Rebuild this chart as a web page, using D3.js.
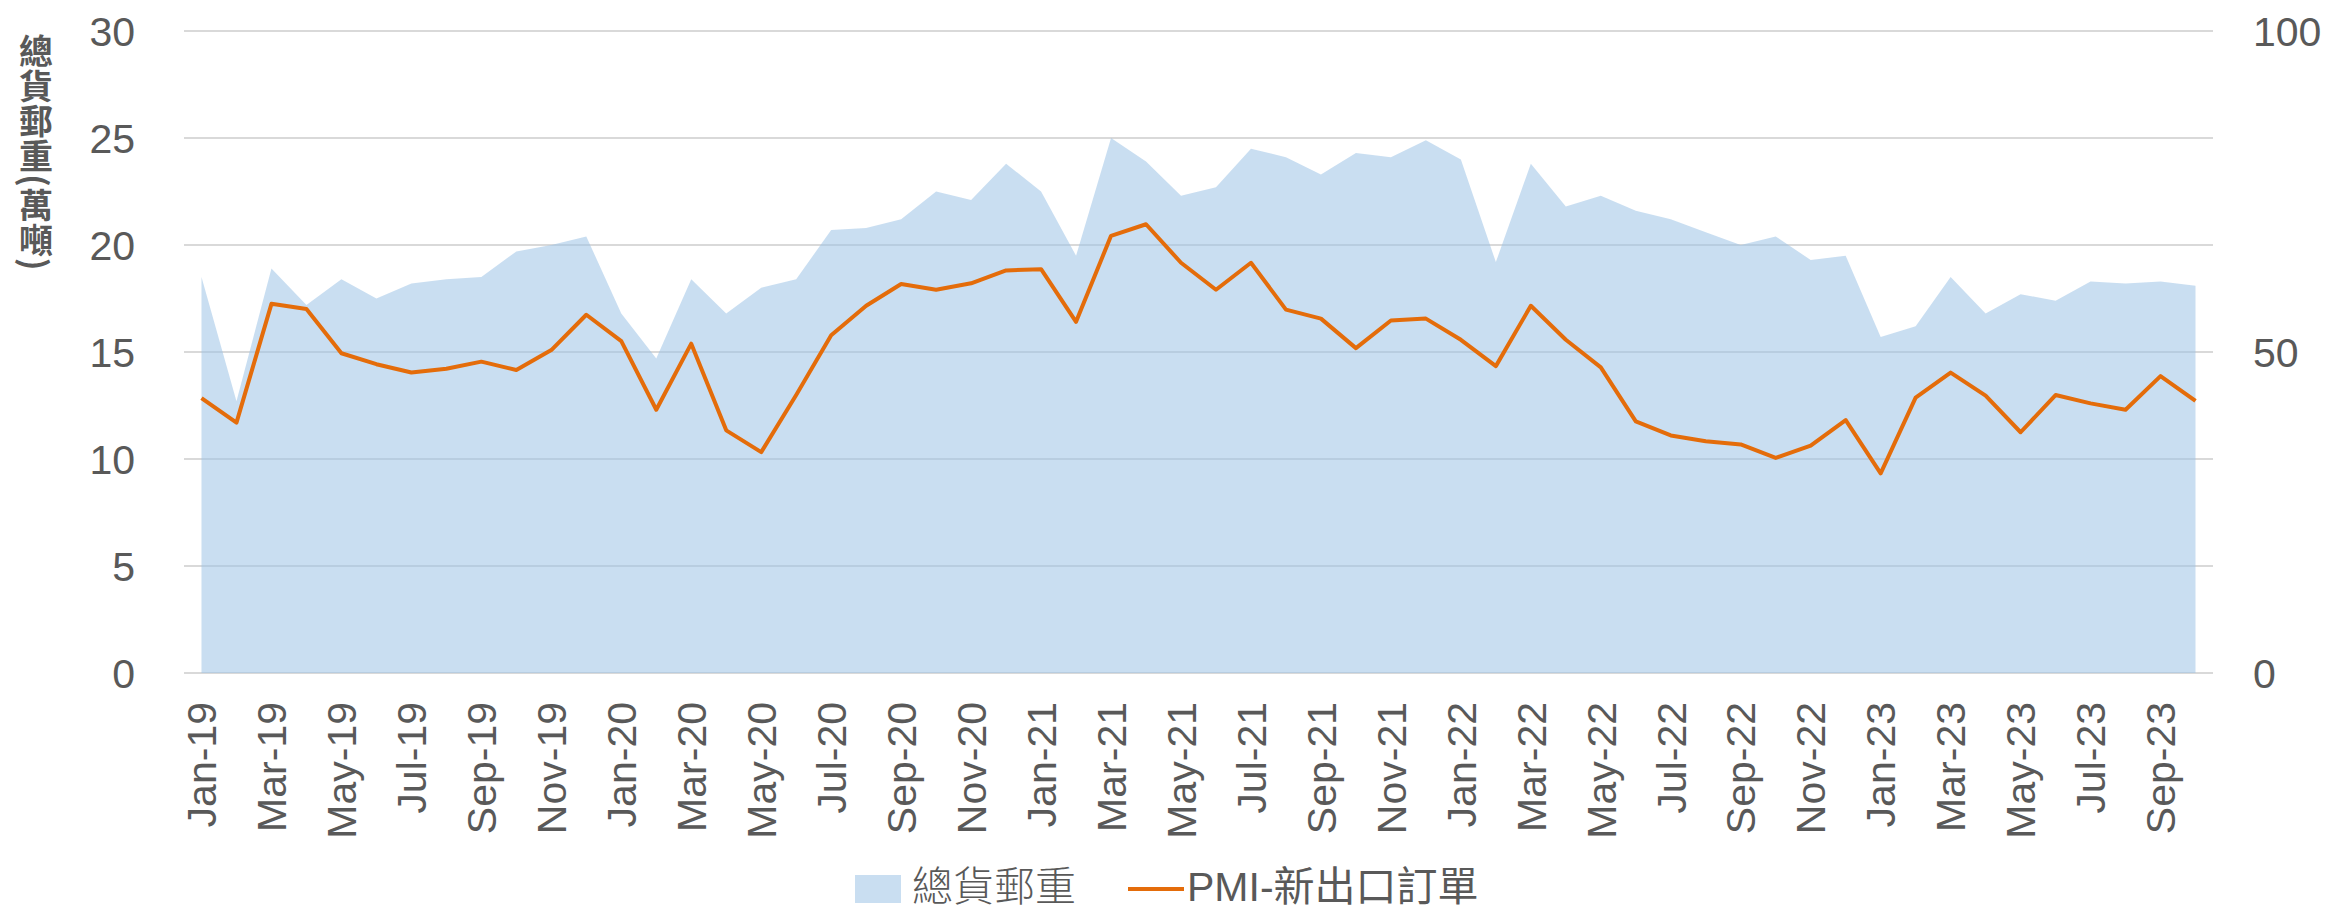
<!DOCTYPE html>
<html>
<head>
<meta charset="utf-8">
<script src="https://cdn.jsdelivr.net/npm/d3@7"></script>
<style>
  body { margin: 0; background: #fff; }
  text { font-family: "Liberation Sans", Arial, "Noto Sans CJK TC", sans-serif; fill: #595959; }
</style>
</head>
<body>
<script>
var months = [
  "Jan-19","Feb-19","Mar-19","Apr-19","May-19","Jun-19","Jul-19","Aug-19","Sep-19","Oct-19","Nov-19","Dec-19",
  "Jan-20","Feb-20","Mar-20","Apr-20","May-20","Jun-20","Jul-20","Aug-20","Sep-20","Oct-20","Nov-20","Dec-20",
  "Jan-21","Feb-21","Mar-21","Apr-21","May-21","Jun-21","Jul-21","Aug-21","Sep-21","Oct-21","Nov-21","Dec-21",
  "Jan-22","Feb-22","Mar-22","Apr-22","May-22","Jun-22","Jul-22","Aug-22","Sep-22","Oct-22","Nov-22","Dec-22",
  "Jan-23","Feb-23","Mar-23","Apr-23","May-23","Jun-23","Jul-23","Aug-23","Sep-23","Oct-23"
];

// 總貨郵重 (萬噸) - left axis
var cargo = [
  18.5, 12.7, 18.9, 17.2, 18.4, 17.5, 18.2, 18.4, 18.5, 19.7, 20.0, 20.4,
  16.8, 14.7, 18.4, 16.8, 18.0, 18.4, 20.7, 20.8, 21.2, 22.5, 22.1, 23.8,
  22.5, 19.5, 25.0, 23.9, 22.3, 22.7, 24.5, 24.1, 23.3, 24.3, 24.1, 24.9,
  24.0, 19.2, 23.8, 21.8, 22.3, 21.6, 21.2, 20.6, 20.0, 20.4, 19.3, 19.5,
  15.7, 16.2, 18.5, 16.8, 17.7, 17.4, 18.3, 18.2, 18.3, 18.1
];

// PMI-新出口訂單 - right axis
var pmi = [
  42.8, 39.0, 57.5, 56.7, 49.8, 48.1, 46.8, 47.4, 48.5, 47.2, 50.3, 55.8,
  51.7, 41.0, 51.3, 37.8, 34.4, 43.3, 52.6, 57.2, 60.6, 59.7, 60.7, 62.7,
  62.9, 54.7, 68.1, 69.9, 63.9, 59.7, 63.9, 56.6, 55.2, 50.6, 54.9, 55.2,
  51.9, 47.8, 57.2, 51.9, 47.6, 39.2, 37.0, 36.1, 35.6, 33.5, 35.4, 39.4,
  31.1, 42.9, 46.8, 43.2, 37.5, 43.3, 42.0, 41.0, 46.25, 42.4
];

var leftTicks = [0, 5, 10, 15, 20, 25, 30];
var rightTicks = [0, 50, 100];
var seriesNames = ["總貨郵重", "PMI-新出口訂單"];
var yTitle = "總貨郵重(萬噸)";

var W = 2326, H = 912;
// note: "top" is taken by window.top, so plot edges get their own names
var plotL = 184, plotR = 2213, plotT = 31, plotB = 673;
var fontSize = 41;

var svg = d3.select("body").append("svg")
  .attr("width", W)
  .attr("height", H);

var x = d3.scaleBand().domain(months).range([plotL, plotR]).padding(0);
var yL = d3.scaleLinear().domain([0, 30]).range([plotB, plotT]);
var yR = d3.scaleLinear().domain([0, 100]).range([plotB, plotT]);

function cx(d) { return x(d) + x.bandwidth() / 2; }

// gridlines
svg.append("g").selectAll("line")
  .data(leftTicks)
  .enter().append("line")
  .attr("x1", plotL).attr("x2", plotR)
  .attr("y1", function(d) { return yL(d); })
  .attr("y2", function(d) { return yL(d); })
  .style("stroke", "#d9d9d9")
  .style("stroke-width", 2);

// area (semi transparent so the gridlines show through)
var area = d3.area()
  .x(function(d, i) { return cx(months[i]); })
  .y0(yL(0))
  .y1(function(d) { return yL(d); });

svg.append("path")
  .datum(cargo)
  .attr("d", area)
  .style("fill", "#9dc3e6")
  .style("fill-opacity", 0.55);

// pmi line
var line = d3.line()
  .x(function(d, i) { return cx(months[i]); })
  .y(function(d) { return yR(d); });

svg.append("path")
  .datum(pmi)
  .attr("d", line)
  .style("fill", "none")
  .style("stroke", "#e46c0a")
  .style("stroke-width", 4)
  .style("stroke-linejoin", "round");

// left axis labels
var axL = svg.append("g")
  .attr("transform", "translate(" + (plotL - 49) + ",0)")
  .call(d3.axisLeft(yL).tickValues(leftTicks).tickSize(0).tickPadding(0));
axL.select(".domain").remove();
axL.selectAll("text")
  .attr("x", 0)
  .attr("dy", "0.36em")
  .style("font-size", fontSize + "px")
  .style("fill", "#595959")
  .style("font-family", "'Liberation Sans', Arial, sans-serif");

// right axis labels
var axR = svg.append("g")
  .attr("transform", "translate(" + (plotR + 40) + ",0)")
  .call(d3.axisRight(yR).tickValues(rightTicks).tickSize(0).tickPadding(0));
axR.select(".domain").remove();
axR.selectAll("text")
  .attr("x", 0)
  .attr("dy", "0.36em")
  .style("font-size", fontSize + "px")
  .style("fill", "#595959")
  .style("font-family", "'Liberation Sans', Arial, sans-serif");

// x labels, every second month, rotated
var shown = months.filter(function(d, i) { return i % 2 == 0; });
var axB = svg.append("g")
  .attr("transform", "translate(0," + plotB + ")")
  .call(d3.axisBottom(x).tickValues(shown).tickSize(0).tickPadding(0));
axB.select(".domain").remove();
axB.selectAll("text")
  .attr("x", 0).attr("y", 0)
  .attr("dy", "0.36em")
  .attr("transform", "translate(0,29) rotate(-90)")
  .style("text-anchor", "end")
  .style("font-size", fontSize + "px")
  .style("fill", "#595959")
  .style("font-family", "'Liberation Sans', Arial, sans-serif");

// y title, vertical
svg.append("text")
  .attr("x", 36)
  .attr("y", 34)
  .style("writing-mode", "vertical-rl")
  .style("font-family", "'Noto Sans CJK TC', sans-serif")
  .style("font-size", "34px")
  .style("font-weight", "bold")
  .style("letter-spacing", "1px")
  .text(yTitle);

// legend
var lg = svg.append("g");
lg.append("rect")
  .attr("x", 855).attr("y", 875)
  .attr("width", 46).attr("height", 28)
  .style("fill", "#9dc3e6")
  .style("fill-opacity", 0.55);
lg.append("text")
  .attr("x", 912).attr("y", 901)
  .style("font-size", fontSize + "px")
  .style("font-family", "'Noto Sans CJK TC', sans-serif")
  .style("font-weight", 300)
  .text(seriesNames[0]);
lg.append("line")
  .attr("x1", 1128).attr("x2", 1184)
  .attr("y1", 889).attr("y2", 889)
  .style("stroke", "#e46c0a")
  .style("stroke-width", 4);
lg.append("text")
  .attr("x", 1187).attr("y", 901)
  .style("font-size", fontSize + "px")
  .style("font-family", "'Liberation Sans', 'Noto Sans CJK TC', sans-serif")
  .text(seriesNames[1]);
</script>
</body>
</html>
